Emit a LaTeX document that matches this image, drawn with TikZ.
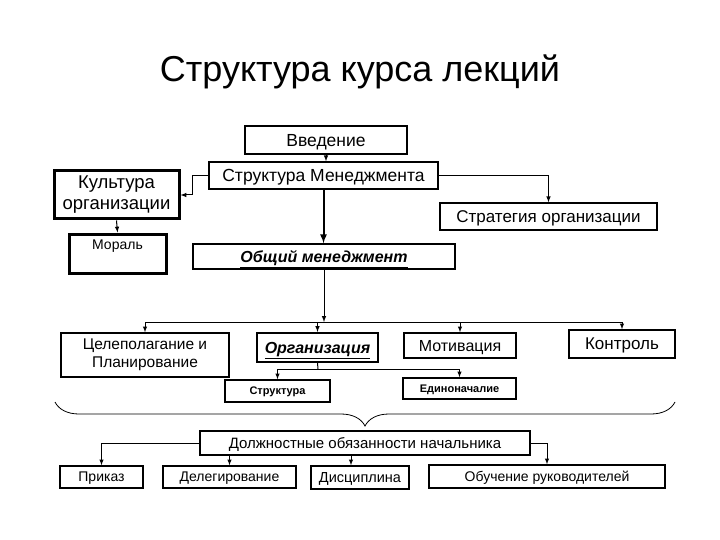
\documentclass[tikz,border=0pt]{standalone}
\usepackage{fontspec}
\setmainfont{Liberation Sans}
\usetikzlibrary{decorations.pathreplacing}

\begin{document}
\begin{tikzpicture}[x=1pt,y=-1pt,
  box/.style={draw,line width=1.4pt,inner sep=0pt,font=\fontsize{16}{18}\selectfont},
  oneline/.style={box,text depth=0pt},
  thickbox/.style={box,line width=3pt},
  arr/.style={line width=1pt,-latex}]
\useasboundingbox (0,0) rectangle (720,540);
\node (title) at (360,72) {\fontsize{36}{40}\selectfont Структура курса лекций};

% upper part
\node[oneline,minimum width=162,minimum height=28,font=\fontsize{17.5}{20}\selectfont] (vved) at (326,140) {Введение};
\node[oneline,minimum width=229,minimum height=27,font=\fontsize{17.5}{20}\selectfont] (strman) at (323.5,175.5) {Структура Менеджмента};
\node[thickbox,minimum width=125,minimum height=48,align=center,font=\fontsize{18.5}{21}\selectfont] (kult) at (116.5,195) {Культура\\организации};
\node[thickbox,minimum width=97,minimum height=39,text depth=18pt,font=\fontsize{14}{16}\selectfont] (moral) at (117.5,253.5) {Мораль};
\node[oneline,minimum width=217,minimum height=27,font=\fontsize{17}{20}\selectfont] (strat) at (548.5,216.5) {Стратегия организации};
\node[oneline,minimum width=262,minimum height=25] (obsh) at (324,256.5) {\underline{\textbf{\textit{Общий менеджмент}}}};

\draw[arr] (vved.south) -- (vved.south |- strman.north);
\draw[arr,line width=2pt] (strman.south) -- (strman.south |- obsh.north);
\draw[arr] (strman.west) -- ++(-16,0) |- (kult.east);
\draw[arr] (strman.east) -| (strat.north);
\draw[arr] (kult.south) -- (moral.north);

% functions
\node[box,minimum width=168,minimum height=44,align=center,font=\fontsize{15.5}{18.5}\selectfont] (cel) at (145,355) {Целеполагание и\\Планирование};
\node[oneline,line width=2pt,minimum width=121,minimum height=29] (org) at (317.5,347.5) {\underline{\textbf{\textit{Организация}}}};
\node[oneline,minimum width=112,minimum height=25] (motiv) at (460,345.5) {Мотивация};
\node[oneline,minimum width=106,minimum height=28,font=\fontsize{17}{20}\selectfont] (kontr) at (622,344) {Контроль};
\node[oneline,minimum width=105,minimum height=22,font=\fontsize{11}{13}\selectfont\bfseries] (struk) at (277.5,391) {Структура};
\node[oneline,minimum width=113,minimum height=21,font=\fontsize{11}{13}\selectfont\bfseries] (edin) at (459.5,388.5) {Единоначалие};

\coordinate (bus) at (324,322);
\coordinate (orgbus) at (318,369);
\draw[arr] (obsh.south) -- (bus);
\draw[line width=1pt] (cel.north |- bus) -- (kontr.north |- bus);
\foreach \n in {cel,org,motiv,kontr}
  \draw[arr] (\n.north |- bus) -- (\n.north);
\draw[line width=1pt] (org.south) -- (orgbus);
\draw[line width=1pt] (struk.north |- orgbus) -- (edin.north |- orgbus);
\foreach \n in {struk,edin}
  \draw[arr] (\n.north |- orgbus) -- (\n.north);

\draw[line width=0.8pt,decorate,decoration={brace,mirror,amplitude=24pt}] (55,402) -- (675,402);

% lower part
\node[oneline,minimum width=330,minimum height=24,font=\fontsize{15}{18}\selectfont] (dolzh) at (365,443) {Должностные обязанности начальника};
\node[oneline,minimum width=83,minimum height=22,font=\fontsize{14}{16}\selectfont] (prikaz) at (101.5,477) {Приказ};
\node[oneline,minimum width=133,minimum height=22,font=\fontsize{14}{16}\selectfont] (deleg) at (229.5,477) {Делегирование};
\node[oneline,minimum width=98,minimum height=23,font=\fontsize{14.5}{16}\selectfont] (disc) at (360,477.5) {Дисциплина};
\node[oneline,minimum width=236,minimum height=23,font=\fontsize{14}{16}\selectfont] (obuch) at (547,476.5) {Обучение руководителей};

\draw[arr] (dolzh.west) -| (prikaz.north);
\draw[arr] (dolzh.east) -| (obuch.north);
\draw[arr] (dolzh.south -| deleg.north) -- (deleg.north);
\draw[arr] ([xshift=-9pt]dolzh.south -| disc.north) -- ([xshift=-9pt]disc.north);
\end{tikzpicture}
\end{document}
